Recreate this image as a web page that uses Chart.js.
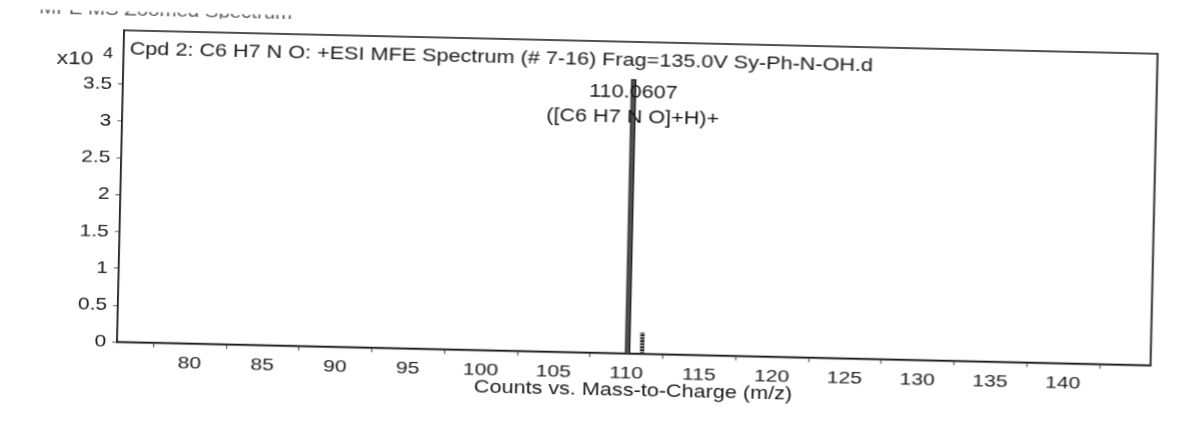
<!DOCTYPE html>
<html>
<head>
<meta charset="utf-8">
<script src="https://cdn.jsdelivr.net/npm/chart.js@4.4.1/dist/chart.umd.min.js"></script>
<style>
  html, body { margin: 0; padding: 0; background: #fff; overflow: hidden; }
  /* hoja escaneada: un poco ancha y girada */
  #hoja {
    position: absolute; left: 0; top: 0;
    width: 988px; height: 430px;
    transform-origin: 0 0;
    transform: translate(592px, 215px) rotate(1.3deg) translate(-592px, -215px) scaleX(1.2);
    background: #fff;
  }
</style>
</head>
<body>
<div id="hoja"><canvas id="espectro" width="988" height="430"></canvas></div>
<script>
/* DATOS */
const picoMz = [110.0607, 111.0640];
const picoCuentas = [3.72, 0.29];          // x10^4
const etiquetaPico = ['110.0607', '([C6 H7 N O]+H)+'];
const ticksMz = [80, 85, 90, 95, 100, 105, 110, 115, 120, 125, 130, 135, 140, 145];
const etiquetasMz = ['80', '85', '90', '95', '100', '105', '110', '115', '120', '125', '130', '135', '140', ''];
const ticksCuentas = [0, 0.5, 1, 1.5, 2, 2.5, 3, 3.5];
const etiquetasCuentas = ['0', '0.5', '1', '1.5', '2', '2.5', '3', '3.5'];

const tituloEspectro = 'Cpd 2: C6 H7 N O: +ESI MFE Spectrum (# 7-16) Frag=135.0V Sy-Ph-N-OH.d';
const tituloCabecera = 'MFE MS Zoomed Spectrum';
const fuente = '"Liberation Sans", Arial, sans-serif';
const tinta = '#1a1a1a';

/* rayado del pico isotópico */
const rayas = document.createElement('canvas');
rayas.width = 3; rayas.height = 3;
const rctx = rayas.getContext('2d');
rctx.fillStyle = '#d0d0d0'; rctx.fillRect(0, 0, 3, 3);
rctx.fillStyle = '#222'; rctx.fillRect(0, 0, 3, 2);

/* marco, título, exponente y etiqueta del pico */
const marcoYTextos = {
  id: 'marcoYTextos',
  afterDraw(chart) {
    const {ctx, chartArea: a, scales: {x, y}} = chart;
    ctx.save();
    ctx.strokeStyle = tinta;
    ctx.lineWidth = 1.5;
    ctx.beginPath();
    ctx.moveTo(a.left, a.top);
    ctx.lineTo(a.right, a.top);
    ctx.lineTo(a.right, a.bottom);
    ctx.stroke();

    ctx.fillStyle = tinta;
    ctx.textBaseline = 'alphabetic';
    ctx.font = '18px ' + fuente;
    ctx.textAlign = 'left';
    ctx.fillText(tituloEspectro, a.left + 5, a.top + 24);

    ctx.textAlign = 'right';
    ctx.font = '19px ' + fuente;
    ctx.fillText('x10', a.left - 25, a.top + 35);
    ctx.font = '15px ' + fuente;
    ctx.textAlign = 'left';
    ctx.fillText('4', a.left - 17, a.top + 28);

    const px = x.getPixelForValue(picoMz[0]);
    const py = y.getPixelForValue(picoCuentas[0]);
    ctx.font = '18px ' + fuente;
    ctx.textAlign = 'center';
    ctx.fillText(etiquetaPico[0], px, py + 18);
    ctx.fillText(etiquetaPico[1], px, py + 43);

    // cabecera cortada por el borde del papel
    ctx.beginPath();
    ctx.rect(0, 22, 260, 5);
    ctx.clip();
    ctx.fillStyle = '#555';
    ctx.font = '17px ' + fuente;
    ctx.textAlign = 'left';
    ctx.fillText(tituloCabecera, 29, 26);
    ctx.restore();
  }
};

const ctx = document.getElementById('espectro').getContext('2d');

const data = {
  datasets: [{
    data: [{x: picoMz[0], y: picoCuentas[0]}],
    backgroundColor: '#555',
    borderColor: '#111',
    borderWidth: 1,
    barThickness: 4,
    grouped: false
  }, {
    data: [{x: picoMz[1], y: picoCuentas[1]}],
    backgroundColor: ctx.createPattern(rayas, 'repeat'),
    borderWidth: 0,
    barThickness: 3,
    grouped: false
  }]
};

const options = {
  responsive: false,
  animation: false,
  devicePixelRatio: 1.2,
  layout: { padding: { left: 0, right: 27, top: 41, bottom: 0 } },
  plugins: {
    legend: { display: false },
    tooltip: { enabled: false }
  },
  scales: {
    x: {
      type: 'linear',
      offset: false,
      min: 75,
      max: 146,
      afterBuildTicks: s => { s.ticks = ticksMz.map(v => ({ value: v })); },
      afterFit: s => { s.height = 77; },
      ticks: {
        autoSkip: false,
        maxRotation: 0,
        padding: 5,
        color: tinta,
        font: { size: 17.5, family: fuente },
        callback: (v, i) => etiquetasMz[i]
      },
      grid: { drawOnChartArea: false, drawTicks: true, tickLength: 4, color: '#555' },
      border: { color: tinta, width: 2 },
      title: {
        display: true,
        text: 'Counts vs. Mass-to-Charge (m/z)',
        color: tinta,
        font: { size: 18, family: fuente },
        padding: { top: 0, bottom: 29 }
      }
    },
    y: {
      min: 0,
      max: 4.23,
      afterBuildTicks: s => { s.ticks = ticksCuentas.map(v => ({ value: v })); },
      afterFit: s => { s.width = 100; },
      ticks: {
        padding: 5,
        color: tinta,
        font: { size: 17.5, family: fuente },
        callback: (v, i) => etiquetasCuentas[i]
      },
      grid: { drawOnChartArea: false, drawTicks: true, tickLength: 4, color: '#555' },
      border: { color: tinta, width: 1.5 }
    }
  }
};

const grafico = new Chart(ctx, {
  type: 'bar',
  data: data,
  options: options,
  plugins: [marcoYTextos]
});
</script>
</body>
</html>
